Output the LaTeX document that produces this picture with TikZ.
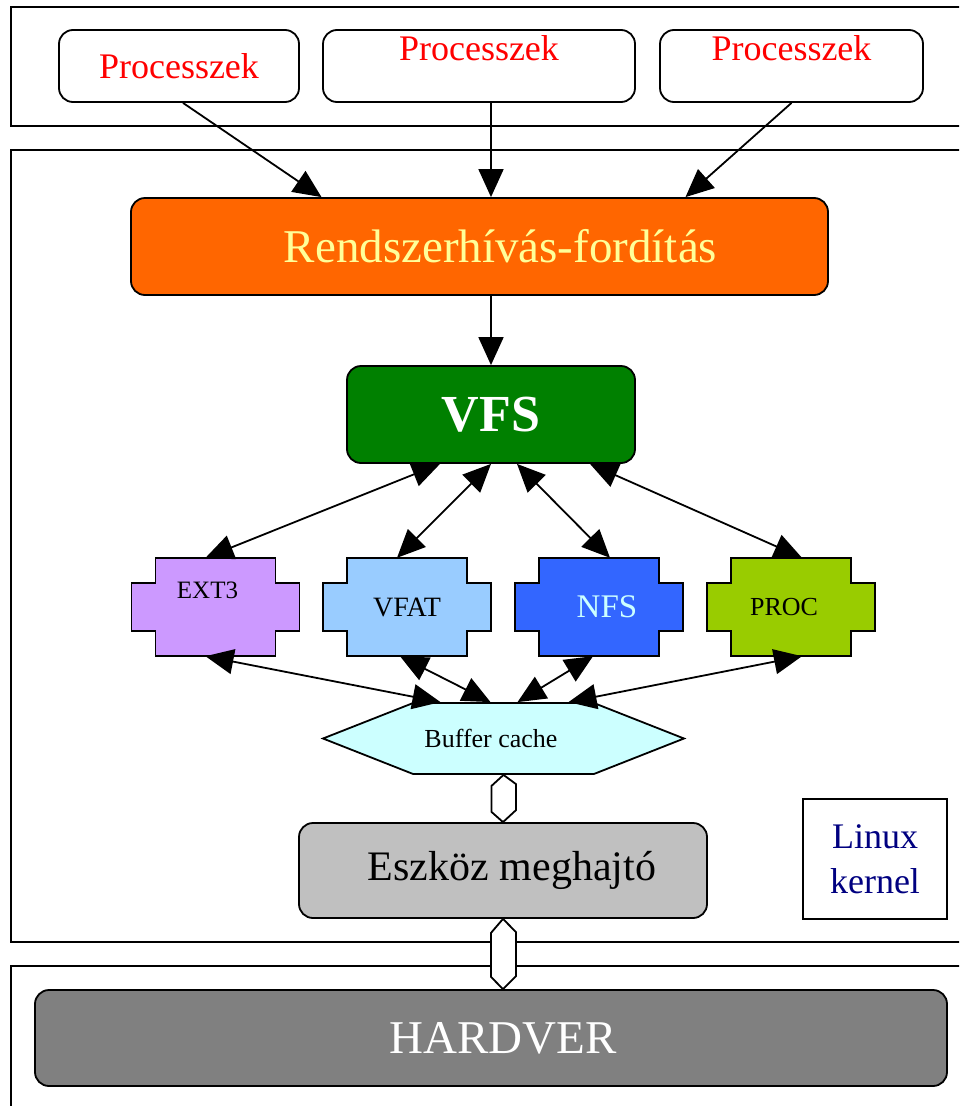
\documentclass[tikz,border=0pt]{standalone}
\usepackage{fontspec}
\setmainfont{Liberation Serif}
\usepackage{xcolor}
\usetikzlibrary{arrows.meta,positioning,calc,shapes.geometric,shapes.symbols}
\definecolor{rszfill}{HTML}{FF6600}
\definecolor{rsztext}{HTML}{FFFF99}
\definecolor{vfsfill}{HTML}{008000}
\definecolor{extfill}{HTML}{CC99FF}
\definecolor{vfatfill}{HTML}{99CCFF}
\definecolor{nfsfill}{HTML}{3366FF}
\definecolor{nfstext}{HTML}{CCFFFF}
\definecolor{procfill}{HTML}{99CC00}
\definecolor{buffill}{HTML}{CCFFFF}
\definecolor{eszfill}{HTML}{C0C0C0}
\definecolor{hwfill}{HTML}{808080}
\definecolor{kernnavy}{HTML}{000080}
\tikzset{
  layerBox/.style={draw=black, line width=2pt},
  procBox/.style={draw, line width=1.8pt, rounded corners=14pt, fill=white, minimum height=72pt, inner sep=0pt, text=red, font=\fontsize{36}{40}\selectfont},
  roundBox/.style={draw, line width=1.8pt, rounded corners=14pt, inner sep=0pt},
  fsBox/.style={minimum width=168pt, minimum height=98pt, inner sep=0pt},
  fsExt/.style={font=\fontsize{25}{28}\selectfont, text height=18pt, text depth=36pt},
  fsVfat/.style={font=\fontsize{28}{30}\selectfont},
  fsNfs/.style={font=\fontsize{33}{36}\selectfont, text=nfstext},
  fsProc/.style={font=\fontsize{26}{28}\selectfont},
  bufBox/.style={signal, signal to=west and east, signal pointer angle=43, draw, line width=1.8pt, fill=buffill, minimum width=361pt, minimum height=71pt, inner sep=0pt, font=\fontsize{26}{28}\selectfont},
  flowArrow/.style={-{Triangle[length=28pt,width=25pt]}, line width=1.8pt},
  dualArrow/.style={{Triangle[length=28pt,width=25pt]}-{Triangle[length=28pt,width=25pt]}, line width=1.8pt},
  busLink/.style={draw, fill=white, line width=1.8pt, line join=miter}
}
\begin{document}
\begin{tikzpicture}[x=1pt,y=-1pt]
  \useasboundingbox (0,0) rectangle (959,1106);
  \clip (0,0) rectangle (959,1106);
  % layers
  \draw[layerBox] (11,7) rectangle (975,126);
  \draw[layerBox] (11,150) rectangle (975,942);
  \draw[layerBox] (11,966) rectangle (975,1120);

  % user space
  \node[procBox, minimum width=240pt] (p1) at (179,66) {Processzek};
  \node[procBox, minimum width=312pt, text depth=36pt] (p2) at (479,66) {Processzek};
  \node[procBox, minimum width=263pt, text depth=36pt] (p3) at (791.5,66) {Processzek};

  % kernel
  \node[roundBox, fill=rszfill, text=rsztext, minimum width=697pt, minimum height=97pt, font=\fontsize{47}{50}\selectfont] (rsz) at (479.5,246.5) {\hspace*{42pt}Rendszerhívás-fordítás};
  \node[roundBox, fill=vfsfill, text=white, minimum width=288pt, minimum height=97pt, font=\fontsize{52}{56}\selectfont\bfseries] (vfs) at (491,414.5) {VFS};

  \foreach \nm/\cx/\col/\txt/\opt in {ext/215.5/extfill/{EXT3\hspace*{16pt}}/fsExt, vfat/407/vfatfill/{VFAT}/fsVfat, nfs/599/nfsfill/{\hspace*{16pt}NFS}/fsNfs, proc/791/procfill/{PROC\hspace*{14pt}}/fsProc} {
    \filldraw[fill=\col, line width=1.8pt] (\cx-60,558) -- (\cx+60,558) -- (\cx+60,583) -- (\cx+84,583) -- (\cx+84,631) -- (\cx+60,631) -- (\cx+60,656) -- (\cx-60,656) -- (\cx-60,631) -- (\cx-84,631) -- (\cx-84,583) -- (\cx-60,583) -- cycle;
    \node[fsBox, \opt] (\nm) at (\cx,607) {\txt};
  }

  \node[bufBox] (buf) at (503.5,738.5) {Buffer cache\hspace*{25pt}};
  \node[roundBox, fill=eszfill, minimum width=408pt, minimum height=95pt, font=\fontsize{42}{45}\selectfont] (esz) at (503,870.5) {\hspace*{18pt}Eszköz meghajtó};
  \node[draw, line width=1.8pt, minimum width=144pt, minimum height=120pt, text=kernnavy, align=center, font=\fontsize{36}{45}\selectfont] (kern) at (875,859) {Linux\\kernel};

  % hardware
  \node[roundBox, fill=hwfill, text=white, minimum width=912pt, minimum height=96pt, font=\fontsize{47}{50}\selectfont] (hw) at (491,1038) {\hspace*{24pt}HARDVER};

  % connectors
  \draw[flowArrow] ([xshift=4pt]p1.south) -- ([xshift=-158pt]rsz.north);
  \draw[flowArrow] ([xshift=12pt]p2.south) -- ([xshift=11.5pt]rsz.north);
  \draw[flowArrow] (p3.south) -- ([xshift=206pt]rsz.north);
  \draw[flowArrow] (rsz.south -| vfs.north) -- (vfs.north);

  \draw[dualArrow] ([xshift=-51pt]vfs.south) -- ([xshift=-10pt]ext.north);
  \draw[dualArrow] (vfs.south) -- ([xshift=-10pt]vfat.north);
  \draw[dualArrow] ([xshift=26pt]vfs.south) -- ([xshift=11pt]nfs.north);
  \draw[dualArrow] ([xshift=99pt]vfs.south) -- ([xshift=11pt]proc.north);

  \draw[dualArrow] ([xshift=-10pt]ext.south) -- ([xshift=-63pt]buf.north);
  \draw[dualArrow] ([xshift=-7pt]vfat.south) -- ([xshift=-13pt]buf.north);
  \draw[dualArrow] ([xshift=-6pt]nfs.south) -- ([xshift=14pt]buf.north);
  \draw[dualArrow] ([xshift=11pt]proc.south) -- ([xshift=65pt]buf.north);

  \draw[busLink] (buf.south) -- ++(-12,11) -- ++(0,26) -- (esz.north) -- ++(13,-12) -- ++(0,-26) -- cycle;
  \draw[busLink] (esz.south) -- ++(-12,14) -- ++(0,44) -- (esz.south |- hw.north) -- ++(13,-13) -- ++(0,-44) -- cycle;
\end{tikzpicture}
\end{document}
